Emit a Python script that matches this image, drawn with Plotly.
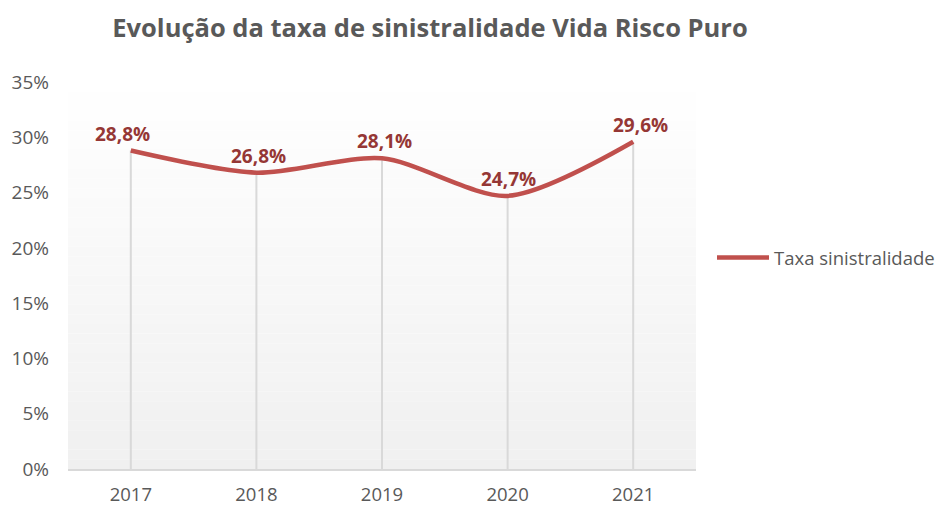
import plotly.graph_objects as go

years = ["2017", "2018", "2019", "2020", "2021"]
taxa = [28.8, 26.8, 28.1, 24.7, 29.6]
series_name = "Taxa sinistralidade"
title = "Evolução da taxa de sinistralidade Vida Risco Puro"

labels = [f"{v:.1f}%".replace(".", ",") for v in taxa]
label_dx = [-8, 2, 2, 1, 7]  # small horizontal nudges of the data labels (px)

FONT = "Open Sans"
GREY = "#595959"

fig = go.Figure()
fig.add_trace(go.Scatter(
    x=years, y=taxa, name=series_name, mode="lines",
    line=dict(color="#c0504d", width=4.5, shape="spline", smoothing=0.8),
    error_y=dict(type="data", symmetric=False, array=[0]*len(taxa), arrayminus=taxa,
                 color="#d9d9d9", thickness=2, width=0),
    cliponaxis=False,
))

# data labels: category axis -> annotation x is the category index
for i, (yv, t, dx) in enumerate(zip(taxa, labels, label_dx)):
    fig.add_annotation(x=i, y=yv, xref="x", yref="y", text=t, showarrow=False,
                       yshift=17, xshift=dx,
                       font=dict(family=FONT, size=19, color="#953735", weight="bold"))

# gradient plot-area background
n = 40
shapes = []
for i in range(n):
    g = int(round(255 - 15 * (i + 0.5) / n))
    shapes.append(dict(type="rect", xref="x domain", yref="y domain",
                       x0=0, x1=1, y0=1 - (i + 1) / n, y1=1 - i / n,
                       fillcolor=f"rgb({g},{g},{g})", line=dict(width=0), layer="below"))

fig.update_layout(
    width=936, height=506,
    margin=dict(l=68, r=240, t=82, b=37),
    paper_bgcolor="white", plot_bgcolor="white",
    shapes=shapes,
    title=dict(text=title, x=430/936, xanchor="center", y=1-28/506, yanchor="middle",
               font=dict(family=FONT, size=25.5, color=GREY, weight="bold")),
    showlegend=True,
    legend=dict(xref="container", x=(774-62)/936, xanchor="left", y=0.545, yanchor="middle",
                itemwidth=52,
                font=dict(family=FONT, size=18.5, color=GREY), bgcolor="rgba(0,0,0,0)"),
    xaxis=dict(type="category", range=[-0.5, 4.5], showgrid=False, showline=True,
               linecolor="#d9d9d9", linewidth=1.5, ticks="", zeroline=False,
               ticklabelstandoff=8, automargin=False,
               tickfont=dict(family=FONT, size=18.5, color=GREY)),
    yaxis=dict(range=[0, 35], dtick=5, ticksuffix="%", showgrid=False, showline=False,
               zeroline=False, ticks="", ticklabelstandoff=18, automargin=False,
               tickfont=dict(family=FONT, size=19, color=GREY)),
)

fig.write_html("out.html", config={"displayModeBar": False},
               post_script="document.body.style.margin='0';")
